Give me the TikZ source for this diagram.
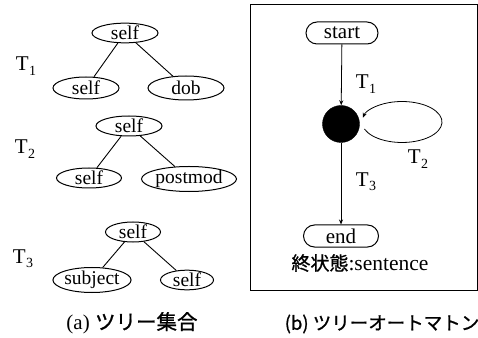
\documentclass[tikz,border=0pt]{standalone}
\usepackage{fontspec}
\setmainfont{Liberation Serif}
\newfontfamily\jp[FakeBold=1]{Noto Sans CJK JP}
\usetikzlibrary{arrows.meta,shapes.geometric,shapes.misc,calc}
\newcommand{\Tsub}[1]{T\kern0.5pt\raisebox{-0.45ex}{\fontsize{14}{14}\selectfont #1}}
\begin{document}
\begin{tikzpicture}[x=1pt,y=1pt,
  tnode/.style={draw, line width=1pt, ellipse, inner sep=0pt, font=\fontsize{19.5}{19.5}\selectfont},
  edge/.style={line width=0.9pt},
  state/.style={draw, line width=1pt, rounded rectangle, minimum width=72pt, minimum height=22pt, inner sep=0pt, font=\fontsize{21}{21}\selectfont},
  arr/.style={line width=0.8pt, -{Stealth[length=5pt,width=4pt]}},
  tname/.style={font=\fontsize{21}{21}\selectfont, inner sep=0pt},
  captext/.style={inner sep=0pt}
]
\useasboundingbox (0,0) rectangle (478,337);

% ---- (a) tree set ----
\node[tname] (t1) at (26,271) {\Tsub{1}};
\node[tnode, minimum width=66pt, minimum height=19pt] (r1) at (125,304) {self};
\node[tnode, minimum width=66pt, minimum height=22pt] (a1) at (86,249) {self};
\node[tnode, minimum width=76pt, minimum height=24pt] (b1) at (186,249) {dob};
\draw[edge] (r1) -- (a1);
\draw[edge] (r1) -- (b1);

\node[tname] (t2) at (25,188) {\Tsub{2}};
\node[tnode, minimum width=66pt, minimum height=20pt] (r2) at (129,211) {self};
\node[tnode, minimum width=65pt, minimum height=20pt] (a2) at (89,159) {self};
\node[tnode, minimum width=78pt, minimum height=22pt] (b2) at (189,158) {postmod};
\draw[edge] (r2) -- (a2);
\draw[edge] (r2) -- (b2);

\node[tname] (t3) at (23,78) {\Tsub{3}};
\node[tnode, minimum width=55pt, minimum height=20pt] (r3) at (133,105) {self};
\node[tnode, minimum width=78pt, minimum height=18pt] (a3) at (92,57) {subject};
\node[tnode, minimum width=53pt, minimum height=18pt] (b3) at (187,57) {self};
\draw[edge] (r3) -- (a3);
\draw[edge] (r3) -- (b3);

\node[captext] (capa) at (132,14) {\fontsize{21}{21}\selectfont (a) {\jp\fontsize{20.5}{20.5}\selectfont ツリー集合}};

% ---- (b) tree automaton ----
\draw[line width=1pt] (250,47) rectangle (477,332);
\node[state] (start) at (342,304) {start};
\node[draw, fill=black, circle, minimum size=37pt, inner sep=0pt] (mid) at (341,213) {};
\node[state, minimum width=75pt] (end) at (341,101) {end};
\draw[arr] (start) -- (mid);
\draw[arr] (mid) -- (end);
% self loop on the middle state
\coordinate (lp) at ($(402,215)+(200:40 and 20.5)$);
\draw[arr] (lp) arc[start angle=200, end angle=528, x radius=40, y radius=20.5];
\node[tname] (l1) at (366,253) {\Tsub{1}};
\node[tname] (l2) at (418,178) {\Tsub{2}};
\node[tname] (l3) at (366,155) {\Tsub{3}};
\node[inner sep=0pt] (fin) at (360,74) {{\jp\fontsize{19}{19}\selectfont 終状態}\fontsize{21.5}{21.5}\selectfont:sentence};

\node[captext] (capb) at (382,13) {\jp\fontsize{18.5}{18.5}\selectfont (b) ツリーオートマトン};
\end{tikzpicture}
\end{document}
